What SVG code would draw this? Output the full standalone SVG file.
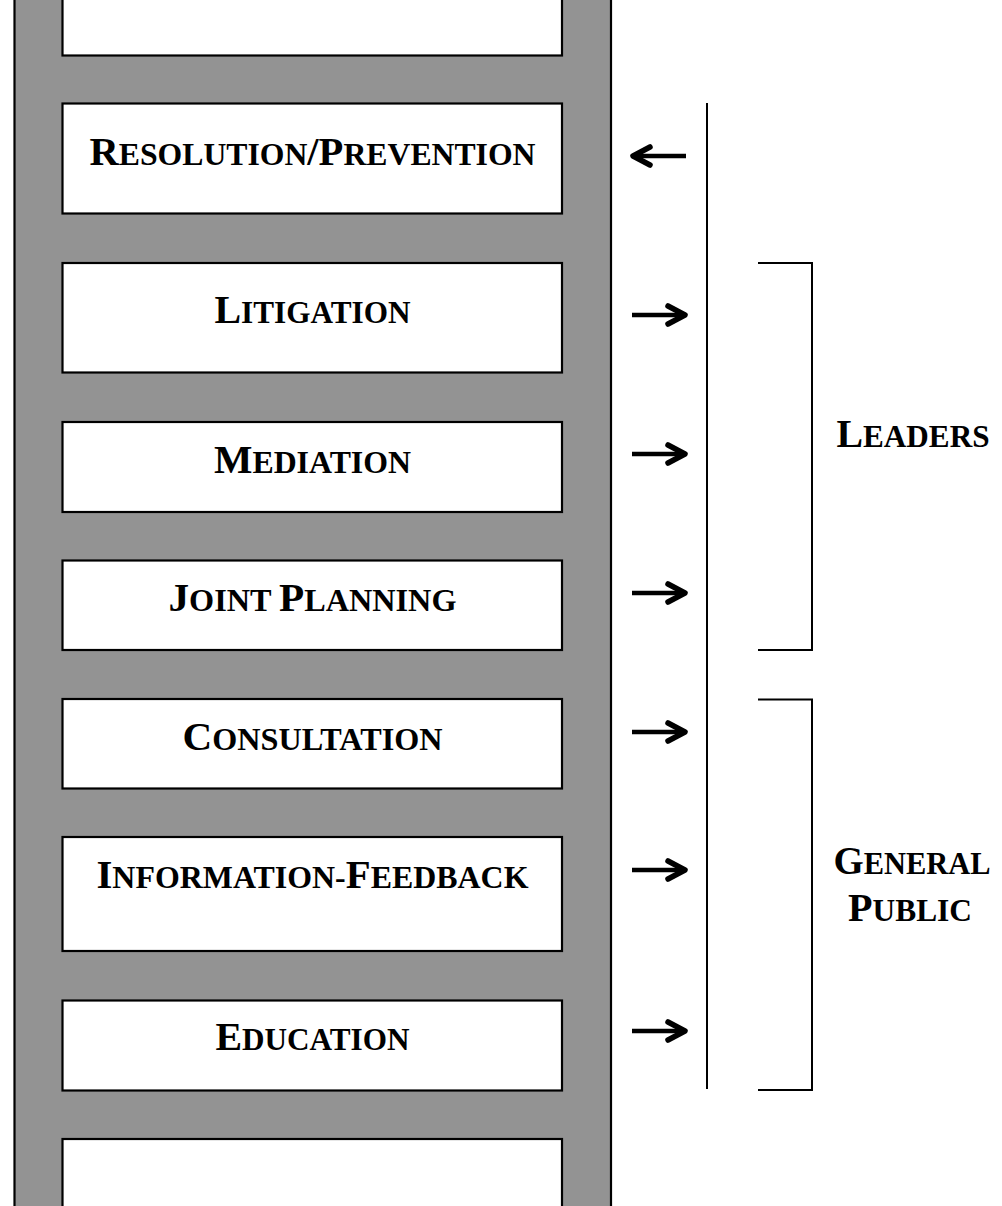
<svg xmlns="http://www.w3.org/2000/svg" xmlns:xlink="http://www.w3.org/1999/xlink" width="1002" height="1206" viewBox="0 0 1002 1206">
<style>
.rail{fill:#939393;stroke:#000;stroke-width:2.2}
.box{fill:#fff;stroke:#000;stroke-width:2.2}
.lbl{font-family:"Liberation Serif","Times New Roman",serif;font-weight:bold;fill:#000;font-size:30.5px}
.lbl .c{font-size:39px}
.mid{text-anchor:middle}
.ln{fill:none;stroke:#000;stroke-width:2}
.shaft{fill:none;stroke:#000;stroke-width:4.5;stroke-linecap:butt}
.head{fill:none;stroke:#000;stroke-width:5.5;stroke-linecap:round;stroke-linejoin:round}
</style>
<defs>
<g id="arrowR"><path class="shaft" d="M0,0 H50"/><path class="head" d="M36,-9 L53,0 L36,9"/></g>
<g id="arrowL"><path class="shaft" d="M55,0 H5"/><path class="head" d="M19,-9 L2,0 L19,9"/></g>
</defs>
<g id="ladder">
<rect class="rail" x="14.5" y="-5" width="596.5" height="1220"/>
</g>
<g id="top-rung"><rect class="box" x="62.5" y="-5" width="499.5" height="60.5"/></g>
<g id="resolution">
<rect class="box" x="62.5" y="103.5" width="499.5" height="110"/>
<text class="lbl mid" x="312.5" y="165" textLength="446" lengthAdjust="spacingAndGlyphs"><tspan class="c">R</tspan>ESOLUTION<tspan class="c">/P</tspan>REVENTION</text>
</g>
<g id="litigation">
<rect class="box" x="62.5" y="263" width="499.5" height="109.5"/>
<text class="lbl mid" x="312.5" y="323" textLength="196" lengthAdjust="spacingAndGlyphs"><tspan class="c">L</tspan>ITIGATION</text>
</g>
<g id="mediation">
<rect class="box" x="62.5" y="422" width="499.5" height="90"/>
<text class="lbl mid" x="312.5" y="473" textLength="197" lengthAdjust="spacingAndGlyphs"><tspan class="c">M</tspan>EDIATION</text>
</g>
<g id="joint-planning">
<rect class="box" x="62.5" y="560.5" width="499.5" height="89.5"/>
<text class="lbl mid" x="312.5" y="611" textLength="288" lengthAdjust="spacingAndGlyphs"><tspan class="c">J</tspan>OINT <tspan class="c">P</tspan>LANNING</text>
</g>
<g id="consultation">
<rect class="box" x="62.5" y="699" width="499.5" height="89.5"/>
<text class="lbl mid" x="312.5" y="750" textLength="260" lengthAdjust="spacingAndGlyphs"><tspan class="c">C</tspan>ONSULTATION</text>
</g>
<g id="information-feedback">
<rect class="box" x="62.5" y="837" width="499.5" height="114"/>
<text class="lbl mid" x="312.5" y="888" textLength="432" lengthAdjust="spacingAndGlyphs"><tspan class="c">I</tspan>NFORMATION-<tspan class="c">F</tspan>EEDBACK</text>
</g>
<g id="education">
<rect class="box" x="62.5" y="1000.5" width="499.5" height="90"/>
<text class="lbl mid" x="312.5" y="1050" textLength="194" lengthAdjust="spacingAndGlyphs"><tspan class="c">E</tspan>DUCATION</text>
</g>
<g id="bottom-rung"><rect class="box" x="62.5" y="1139" width="499.5" height="80"/></g>
<g id="leaders">
<path class="ln" d="M758,263 H812 V650 H758"/>
<text class="lbl mid" x="913" y="447" textLength="153" lengthAdjust="spacingAndGlyphs"><tspan class="c">L</tspan>EADERS</text>
</g>
<g id="general-public">
<path class="ln" d="M758,699.5 H812 V1090 H758"/>
<text class="lbl mid" x="912" y="874" textLength="157" lengthAdjust="spacingAndGlyphs"><tspan class="c">G</tspan>ENERAL</text>
<text class="lbl mid" x="910" y="921" textLength="124" lengthAdjust="spacingAndGlyphs"><tspan class="c">P</tspan>UBLIC</text>
</g>
<g id="connectors">
<path class="ln" d="M707,103 V1089"/>
<use xlink:href="#arrowL" x="631" y="156"/>
<use xlink:href="#arrowR" x="632" y="315"/>
<use xlink:href="#arrowR" x="632" y="454"/>
<use xlink:href="#arrowR" x="632" y="593"/>
<use xlink:href="#arrowR" x="632" y="732"/>
<use xlink:href="#arrowR" x="632" y="870"/>
<use xlink:href="#arrowR" x="632" y="1031"/>
</g>
</svg>
